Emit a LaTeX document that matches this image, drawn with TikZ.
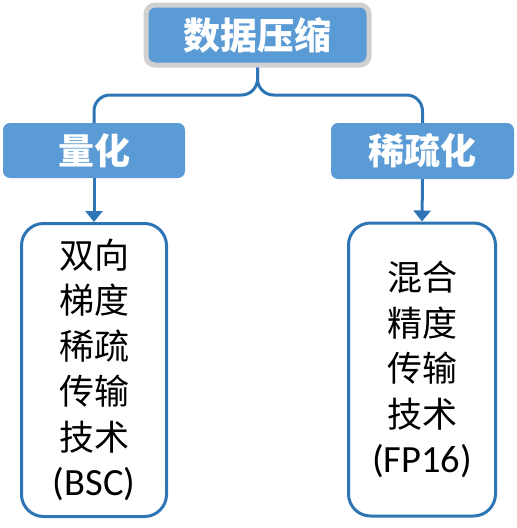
\documentclass[tikz,border=0pt]{standalone}
\usepackage{fontspec}
\setmainfont{Carlito}
\newfontfamily\cjk{Noto Sans CJK SC}
\usetikzlibrary{arrows.meta}
\definecolor{fillblue}{HTML}{5B9BD5}
\definecolor{lineblue}{HTML}{2E75B6}
\definecolor{bordergray}{HTML}{D0D0D0}
\tikzset{
  topbox/.style={fill=fillblue, draw=bordergray, line width=5pt, rounded corners=9pt,
    minimum width=223pt, minimum height=60pt, inner sep=0pt, text=white,
    font=\cjk\bfseries\fontsize{37}{44}\selectfont},
  midbox/.style={fill=fillblue, rounded corners=7pt, inner sep=0pt, text=white,
    font=\cjk\bfseries\fontsize{36}{44}\selectfont},
  leafbox/.style={draw=lineblue, fill=white, line width=3pt, rounded corners=22pt,
    inner sep=0pt, align=center, font=\cjk\fontsize{35}{45.5}\selectfont},
  conn/.style={draw=lineblue, line width=3pt},
  arr/.style={conn, -{Triangle[width=17pt,length=11pt]}}
}
\newcommand{\latintext}[1]{{\rmfamily\fontsize{38.5}{45.5}\selectfont #1}}
\begin{document}
\begin{tikzpicture}[x=1pt,y=-1pt]
\useasboundingbox (0,0) rectangle (517,528);
\node[topbox] (top) at (257.5,35) {数据压缩};
\node[midbox, minimum width=182pt, minimum height=55pt] (ml) at (94,150.5) {量化};
\node[midbox, minimum width=183pt, minimum height=56pt] (mr) at (422.5,151) {稀疏化};
\node[leafbox, minimum width=145pt, minimum height=293pt] (bl) at (94,370)
  {双向\\梯度\\稀疏\\传输\\技术\\\latintext{(BSC)}};
\node[leafbox, minimum width=147pt, minimum height=293pt] (br) at (422,369.5)
  {混合\\精度\\传输\\技术\\\latintext{(FP16)}};
\coordinate (tj) at (258.5,95);
\draw[conn, rounded corners=16pt] (top.south) |- (ml.north |- tj) -- (ml.north);
\draw[conn, rounded corners=16pt] (top.south) |- (mr.north |- tj) -- (mr.north);
\draw[arr] (ml.south) -- (bl.north);
\draw[arr] (mr.south) -- (br.north);
\end{tikzpicture}
\end{document}
